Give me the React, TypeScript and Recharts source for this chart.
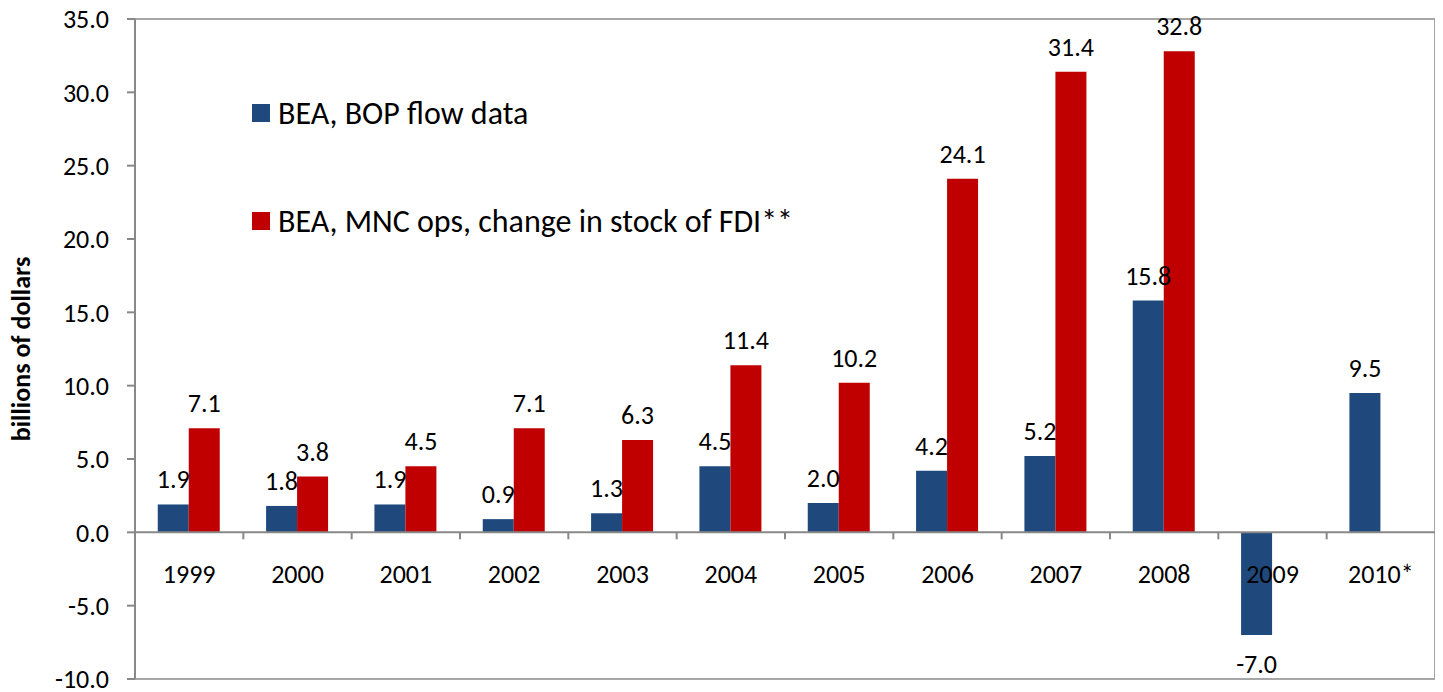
import React from 'react';
import {
  Bar,
  BarChart,
  LabelList,
  ReferenceArea,
  ReferenceLine,
  XAxis,
  YAxis,
} from 'recharts';

// data
const YEARS = ['1999', '2000', '2001', '2002', '2003', '2004', '2005', '2006', '2007', '2008', '2009', '2010*'];
const BOP_FLOW = [1.9, 1.8, 1.9, 0.9, 1.3, 4.5, 2.0, 4.2, 5.2, 15.8, -7.0, 9.5];
const MNC_STOCK_CHANGE: (number | null)[] = [7.1, 3.8, 4.5, 7.1, 6.3, 11.4, 10.2, 24.1, 31.4, 32.8, null, null];
const Y_TICKS = [-10, -5, 0, 5, 10, 15, 20, 25, 30, 35];

const SERIES = [
  { key: 'bop', name: 'BEA, BOP flow data', color: '#1F497D' },
  { key: 'mnc', name: 'BEA, MNC ops, change in stock of FDI**', color: '#C00000' },
];

const data = YEARS.map((year, i) => ({
  year,
  bop: BOP_FLOW[i],
  mnc: MNC_STOCK_CHANGE[i],
}));

// style
const FONT = "Carlito, Calibri, 'Open Sans', sans-serif";
const FS = 26;
const AXIS_GRAY = '#888888';
const BORDER_GRAY = '#A6A6A6';
const W = 1435;
const H = 684;
const MARGIN = { top: 11, right: 8, bottom: 5, left: 0 };
const Y_WIDTH = 127;
const X_HEIGHT = 8;

const plotH = H - MARGIN.top - MARGIN.bottom - X_HEIGHT;
const plotW = W - MARGIN.left - MARGIN.right - Y_WIDTH;
const band = plotW / YEARS.length;
const zeroY = MARGIN.top + (35 / 45) * plotH;

const fmt = (v: any) => (v == null ? '' : Number(v).toFixed(1));

function CategoryTick(props: any) {
  const { x, payload, index } = props;
  return (
    <g>
      {index > 0 && (
        <line
          x1={x - band / 2}
          x2={x - band / 2}
          y1={zeroY}
          y2={zeroY + 7}
          stroke={AXIS_GRAY}
          strokeWidth={2}
        />
      )}
      <text
        x={x}
        y={zeroY + 42}
        textAnchor="middle"
        dominantBaseline="central"
        fontSize={FS}
        fontFamily={FONT}
        fill="#000"
      >
        {payload.value}
      </text>
    </g>
  );
}

function BopLabel(props: any) {
  const { x, y, width, height, value } = props;
  if (value == null) return null;
  const cx = x + width / 2;
  const ty = value < 0 ? Math.max(y, y + height) + 29 : Math.min(y, y + height) - 25;
  return (
    <text x={cx} y={ty} textAnchor="middle" dominantBaseline="central" fontSize={FS} fontFamily={FONT} fill="#000">
      {fmt(value)}
    </text>
  );
}

function MncLabel(props: any) {
  const { x, y, width, value } = props;
  if (value == null) return null;
  return (
    <text x={x + width / 2} y={y - 25} textAnchor="middle" dominantBaseline="central" fontSize={FS} fontFamily={FONT} fill="#000">
      {fmt(value)}
    </text>
  );
}

function LegendBox() {
  return (
    <div
      style={{
        position: 'absolute',
        top: 90,
        left: 244,
        fontFamily: FONT,
        fontSize: 32,
        color: '#000',
        whiteSpace: 'nowrap',
      }}
    >
      {SERIES.map((s, i) => (
        <div
          key={s.key}
          style={{ display: 'flex', alignItems: 'center', height: 30, marginTop: i === 0 ? 0 : 78 }}
        >
          <span style={{ display: 'inline-block', width: 18, height: 18, background: s.color, marginRight: 8 }} />
          <span>{s.name}</span>
        </div>
      ))}
    </div>
  );
}

export default function App() {
  return (
    <div style={{ position: 'relative', width: W, height: H }}>
      <BarChart
        width={W}
        height={H}
        data={data}
        margin={MARGIN}
        barCategoryGap="21%"
        barGap={0}
      >
        <XAxis
          dataKey="year"
          height={X_HEIGHT}
          tick={(p: any) => <CategoryTick {...p} />}
          tickLine={false}
          axisLine={{ stroke: BORDER_GRAY, strokeWidth: 2 }}
          interval={0}
        />
        <YAxis
          domain={[-10, 35]}
          ticks={Y_TICKS}
          interval={0}
          width={Y_WIDTH}
          tickFormatter={fmt}
          tick={{ fontSize: FS, fill: '#000', fontFamily: FONT }}
          tickSize={8}
          tickMargin={18}
          tickLine={{ stroke: AXIS_GRAY, strokeWidth: 2 }}
          axisLine={{ stroke: AXIS_GRAY, strokeWidth: 2 }}
          label={{
            value: 'billions of dollars',
            angle: -90,
            position: 'insideLeft',
            offset: 0,
            dx: 13,
            style: { fontSize: 26, fontWeight: 'bold', fontFamily: FONT, fill: '#000', textAnchor: 'middle' },
          }}
        />
        <ReferenceArea
          x1="1999"
          x2="2010*"
          y1={-10}
          y2={35}
          fill="none"
          fillOpacity={0}
          stroke={BORDER_GRAY}
          strokeWidth={2}
        />
        <ReferenceLine y={0} stroke={AXIS_GRAY} strokeWidth={2} />
        <Bar dataKey="bop" name={SERIES[0].name} fill={SERIES[0].color} isAnimationActive={false}>
          <LabelList dataKey="bop" content={<BopLabel />} />
        </Bar>
        <Bar dataKey="mnc" name={SERIES[1].name} fill={SERIES[1].color} isAnimationActive={false}>
          <LabelList dataKey="mnc" content={<MncLabel />} />
        </Bar>
      </BarChart>
      <LegendBox />
    </div>
  );
}
